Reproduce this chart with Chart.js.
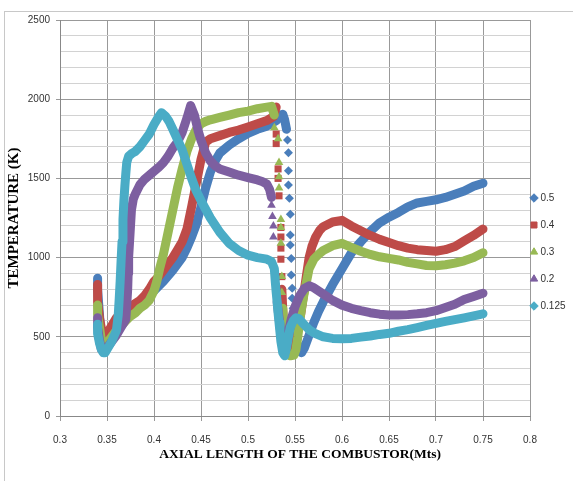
<!DOCTYPE html>
<html>
<head>
<meta charset="utf-8">
<script src="https://cdn.jsdelivr.net/npm/chart.js@4.4.1/dist/chart.umd.min.js"></script>
<style>
html, body { margin: 0; padding: 0; background: #fff; }
#wrap { position: relative; width: 573px; height: 481px; }
#frame { position: absolute; left: 4px; top: 11px; right: 0; bottom: 0;
         border-left: 1px solid #c8c8c8; border-top: 1px solid #c8c8c8; }
canvas { position: absolute; left: 0; top: 0; }
</style>
</head>
<body>
<div id="wrap"><div id="frame"></div><canvas id="myChart" width="573" height="481"></canvas></div>
<script>
// axis ticks
var xTickValues = [0.3, 0.35, 0.4, 0.45, 0.5, 0.55, 0.6, 0.65, 0.7, 0.75, 0.8];
var yTickLabels = [0, 500, 1000, 1500, 2000, 2500];
var seriesNames = ['0.5', '0.4', '0.3', '0.2', '0.125'];

// 0.5 - main band and the scattered drop near 0.545
var x05 = [0.34,0.34,0.342,0.344,0.346,0.35,0.355,0.36,0.37,0.38,0.39,0.40,0.41,0.42,0.43,0.435,0.44,0.445,0.45,0.455,0.46,0.465,0.47,0.48,0.49,0.50,0.51,0.52,0.53,0.534,0.537,0.539,0.541,0.545,0.549,0.551,0.554,0.557,0.56,0.565,0.57,0.575,0.58,0.59,0.60,0.61,0.62,0.63,0.64,0.65,0.66,0.67,0.68,0.69,0.70,0.71,0.72,0.73,0.74,0.75];
var t05 = [870,800,640,470,430,460,510,560,620,680,740,790,850,920,1000,1060,1130,1210,1320,1440,1540,1610,1660,1710,1750,1785,1810,1830,1865,1895,1905,1870,1810,null,560,480,420,400,430,510,590,660,720,830,930,1030,1100,1165,1220,1255,1285,1320,1345,1355,1365,1380,1400,1420,1450,1470];
var x05Drop = [0.542,0.543,0.543,0.543,0.544,0.545,0.545,0.545,0.546,0.546,0.547,0.547,0.548,0.549];
var t05Drop = [1742,1662,1549,1458,1374,1273,1142,1080,995,890,806,743,680,606];

// 0.4
var x04 = [0.34,0.34,0.342,0.345,0.347,0.35,0.355,0.36,0.365,0.37,0.375,0.38,0.385,0.39,0.395,0.40,0.405,0.41,0.415,0.42,0.425,0.43,0.435,0.44,0.445,0.45,0.455,0.46,0.47,0.48,0.49,0.50,0.51,0.52,0.527,0.53,0.533,0.536,0.537,0.538,0.54,0.543,0.547,0.55,0.553,0.556,0.559,0.562,0.565,0.568,0.572,0.576,0.58,0.59,0.60,0.61,0.62,0.63,0.64,0.65,0.66,0.67,0.68,0.69,0.70,0.71,0.72,0.73,0.74,0.75];
var t04 = [830,720,620,520,490,520,570,620,650,670,690,710,730,760,800,850,880,920,960,1000,1050,1100,1180,1320,1470,1620,1730,1750,1770,1790,1805,1825,1845,1865,1890,1950,null,800,670,560,440,420,480,530,580,640,760,880,1000,1070,1130,1170,1195,1225,1235,1200,1170,1140,1115,1095,1075,1060,1050,1045,1040,1050,1070,1105,1140,1180];
var x04Drop = [0.530,0.530,0.532,0.532,0.533,0.535,0.535,0.535,0.535,0.536];
var t04Drop = [1780,1720,1560,1500,1390,1190,1130,1060,990,880];

// 0.3
var x03 = [0.34,0.34,0.342,0.344,0.346,0.35,0.355,0.36,0.365,0.37,0.375,0.38,0.385,0.39,0.395,0.40,0.403,0.406,0.41,0.415,0.42,0.425,0.43,0.435,0.44,0.445,0.45,0.455,0.46,0.47,0.48,0.49,0.50,0.51,0.52,0.525,0.528,0.532,0.537,0.538,0.539,0.541,0.545,0.549,0.551,0.553,0.555,0.557,0.559,0.562,0.565,0.57,0.575,0.58,0.59,0.60,0.61,0.62,0.63,0.64,0.65,0.66,0.67,0.68,0.69,0.70,0.71,0.72,0.73,0.74,0.75];
var t03 = [700,640,560,480,440,460,500,540,570,600,630,650,680,700,730,790,850,930,1020,1160,1300,1440,1560,1670,1750,1810,1845,1860,1870,1885,1900,1915,1925,1940,1950,1955,1900,null,680,560,450,390,380,385,420,500,600,680,750,840,930,990,1020,1045,1075,1090,1065,1040,1020,1005,995,985,970,960,950,948,955,965,980,1000,1030];
var x03Drop = [0.528,0.532,0.533,0.533,0.533,0.535,0.535,0.535,0.536,0.536];
var t03Drop = [1820,1750,1600,1510,1440,1240,1190,1090,880,780];

// 0.2
var x02 = [0.34,0.34,0.342,0.344,0.346,0.35,0.355,0.36,0.365,0.37,0.371,0.372,0.3725,0.373,0.374,0.375,0.376,0.378,0.38,0.385,0.39,0.395,0.40,0.405,0.41,0.415,0.42,0.425,0.43,0.435,0.439,0.443,0.447,0.45,0.455,0.46,0.465,0.47,0.48,0.49,0.50,0.51,0.515,0.52,0.523,0.525,0.528,0.531,0.533,0.535,0.537,0.54,0.543,0.546,0.55,0.555,0.56,0.565,0.57,0.58,0.59,0.60,0.61,0.62,0.63,0.64,0.65,0.66,0.67,0.68,0.69,0.70,0.71,0.72,0.73,0.74,0.75];
var t02 = [620,560,480,420,410,430,470,510,560,610,700,800,900,1000,1100,1200,1300,1370,1400,1460,1495,1520,1545,1570,1600,1640,1690,1730,1790,1880,1960,1900,1800,1740,1660,1610,1580,1560,1540,1520,1505,1490,1480,1465,1430,1380,null,720,620,520,430,450,530,610,690,760,805,822,810,770,730,700,680,665,652,643,638,638,640,645,652,665,685,705,735,755,775];
var x02Drop = [0.525,0.526,0.527,0.527,0.529,0.53];
var t02Drop = [1330,1260,1200,1130,870,800];

// 0.125
var x0125 = [0.34,0.34,0.342,0.344,0.346,0.348,0.35,0.355,0.36,0.362,0.363,0.364,0.365,0.366,0.367,0.368,0.369,0.37,0.371,0.373,0.377,0.38,0.385,0.39,0.395,0.40,0.405,0.408,0.412,0.416,0.42,0.425,0.43,0.435,0.44,0.445,0.45,0.46,0.47,0.48,0.49,0.50,0.51,0.52,0.525,0.528,0.529,0.53,0.531,0.532,0.533,0.534,0.535,0.537,0.539,0.541,0.543,0.545,0.548,0.551,0.554,0.557,0.56,0.565,0.57,0.58,0.59,0.60,0.61,0.62,0.63,0.64,0.65,0.66,0.67,0.68,0.69,0.70,0.71,0.72,0.73,0.74,0.75];
var t0125 = [580,520,460,420,400,400,420,470,540,640,740,850,980,1100,1240,1360,1450,1530,1600,1640,1660,1670,1700,1740,1780,1840,1890,1915,1895,1860,1810,1745,1680,1590,1500,1420,1360,1250,1160,1090,1045,1015,1000,990,975,930,850,780,720,650,590,530,470,400,380,430,500,560,600,620,615,595,575,545,525,500,490,487,490,498,505,515,522,535,545,558,572,585,597,608,620,632,645];

var colors = ['#4a7ebb', '#be4b48', '#98b954', '#7d5fa0', '#4aacc6'];
var styles = ['rectRot', 'rect', 'triangle', 'triangle', 'rectRot'];

function pts(xs, ts) {
  return xs.map(function (x, i) { return { x: x, y: ts[i] }; });
}

// thick line = dense band of markers
function band(i, xs, ts) {
  return {
    label: seriesNames[i],
    data: pts(xs, ts),
    showLine: true,
    borderColor: colors[i],
    backgroundColor: colors[i],
    borderWidth: 9,
    borderJoinStyle: 'round',
    borderCapStyle: 'round',
    pointRadius: 0,
    pointHoverRadius: 0,
    pointStyle: styles[i],
    pointBackgroundColor: colors[i],
    pointBorderColor: colors[i],
    pointBorderWidth: 1,
    order: 10 - 2 * i
  };
}

// separate markers where the points are spread out
function drop(i, xs, ts, r) {
  return {
    label: seriesNames[i] + ' ',
    data: pts(xs, ts),
    showLine: false,
    pointStyle: styles[i],
    pointRadius: r,
    pointHoverRadius: r,
    pointBackgroundColor: colors[i],
    pointBorderWidth: 0,
    order: 9 - 2 * i
  };
}

// legend sits right against the plot area
var legendShift = {
  id: 'legendShift',
  afterLayout: function (chart) {
    var lg = chart.legend;
    lg.left = 515.5;
    lg.right = 573;
    lg.width = 573 - 515.5;
    lg.top = 21;
    lg.bottom = 483;
    lg.height = 462;
  }
};

var ctx = document.getElementById('myChart').getContext('2d');

var chart = new Chart(ctx, {
  type: 'scatter',
  data: {
    datasets: [
      band(0, x05, t05),
      band(1, x04, t04),
      band(2, x03, t03),
      band(3, x02, t02),
      band(4, x0125, t0125),
      drop(0, x05Drop, t05Drop, 4.5),
      drop(1, x04Drop, t04Drop, 5),
      drop(2, x03Drop, t03Drop, 5),
      drop(3, x02Drop, t02Drop, 5)
    ]
  },
  options: {
    responsive: false,
    animation: false,
    devicePixelRatio: 1,
    layout: { padding: { top: 20, left: 0, right: 0, bottom: 0 } },
    plugins: {
      tooltip: { enabled: false },
      legend: {
        position: 'right',
        maxWidth: 43,
        labels: {
          usePointStyle: true,
          boxWidth: 3,
          boxHeight: 6,
          padding: 17,
          color: '#333',
          font: { family: 'Liberation Sans', size: 10 },
          filter: function (item) { return item.datasetIndex < 5; },
          sort: function (a, b) { return a.datasetIndex - b.datasetIndex; }
        }
      }
    },
    scales: {
      x: {
        type: 'linear',
        min: 0.3,
        max: 0.8,
        afterBuildTicks: function (s) {
          s.ticks = xTickValues.map(function (v) { return { value: v }; });
        },
        afterFit: function (s) { s.height = 65; },
        ticks: {
          autoSkip: false,
          maxRotation: 0,
          padding: 13,
          color: '#333',
          font: { family: 'Liberation Sans', size: 10 },
          callback: function (v) { return String(v); }
        },
        grid: { color: '#999', tickColor: '#999', tickLength: 5 },
        border: { color: '#888' },
        title: {
          display: true,
          text: '   AXIAL LENGTH OF THE COMBUSTOR(Mts)',
          color: '#000',
          font: { family: 'Liberation Serif', size: 13.5, weight: 'bold' },
          padding: { top: 0, bottom: 18.5 }
        }
      },
      y: {
        min: 0,
        max: 2500,
        afterFit: function (s) { s.width = 60; },
        ticks: {
          stepSize: 100,
          autoSkip: false,
          padding: 6,
          color: '#333',
          font: { family: 'Liberation Sans', size: 10 },
          callback: function (v) { return yTickLabels.indexOf(v) >= 0 ? String(v) : ''; }
        },
        grid: {
          tickLength: 4,
          color: function (c) {
            return (c.tick && yTickLabels.indexOf(c.tick.value) >= 0) ? '#999' : '#d2d2d2';
          },
          tickColor: function (c) {
            return (c.tick && yTickLabels.indexOf(c.tick.value) >= 0) ? '#999' : 'rgba(0,0,0,0)';
          }
        },
        border: { color: '#888' },
        title: {
          display: true,
          text: 'TEMPERATURE (K)',
          color: '#000',
          font: { family: 'Liberation Serif', size: 15, weight: 'bold' },
          padding: { top: 5, bottom: 0 }
        }
      }
    }
  },
  plugins: [legendShift]
});
</script>
</body>
</html>
